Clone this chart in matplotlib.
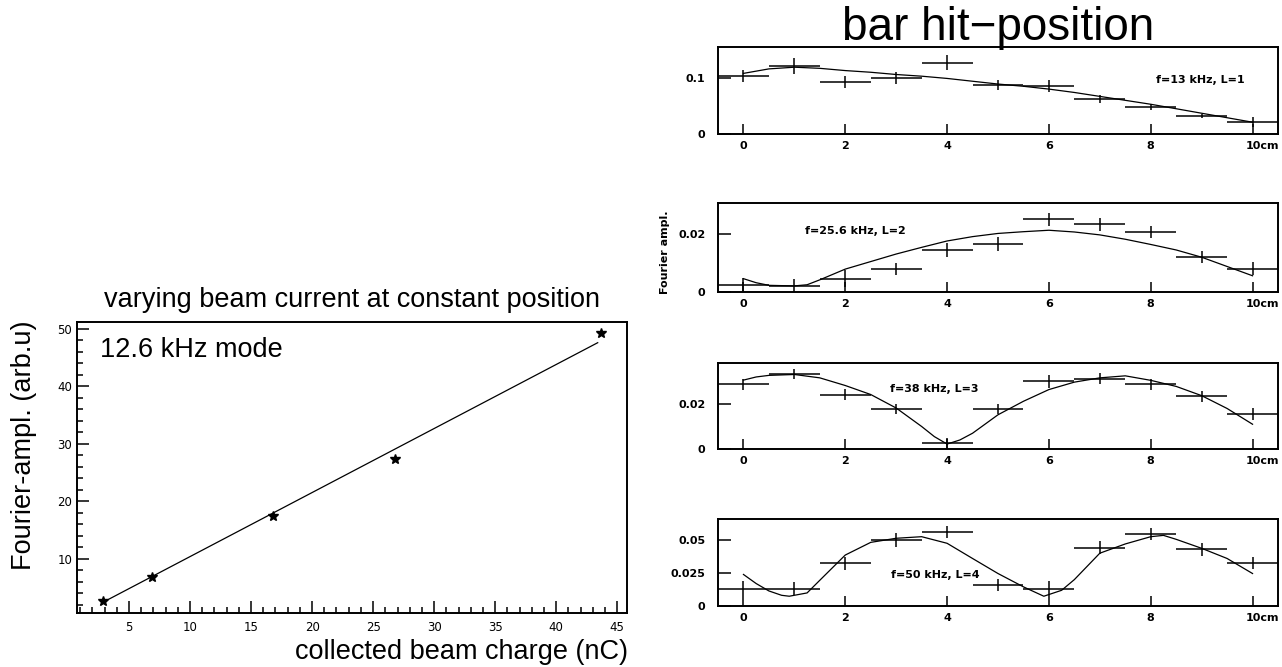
import numpy as np
import matplotlib
matplotlib.use("Agg")
import matplotlib.pyplot as plt
import matplotlib.transforms as mtransforms
from matplotlib.ticker import MultipleLocator

plt.rcParams['font.family'] = ['Liberation Sans', 'DejaVu Sans']

# left plot: amplitude vs collected charge
charge = [2.9, 6.9, 16.8, 26.8, 43.7]
ampl = [2.7, 6.9, 17.5, 27.4, 49.3]
fit_x = [2.9, 43.4]
fit_y = [2.5, 47.6]

# right panels: hit position scan, one entry per mode
pos = [0, 1, 2, 3, 4, 5, 6, 7, 8, 9, 10]
labels = ["f=13 kHz, L=1", "f=25.6 kHz, L=2", "f=38 kHz, L=3", "f=50 kHz, L=4"]
vals = [
    [0.103, 0.121, 0.093, 0.100, 0.127, 0.087, 0.085, 0.062, 0.048, 0.032, 0.021],
    [0.0025, 0.0022, 0.0046, 0.0079, 0.0145, 0.0166, 0.0251, 0.0233, 0.0206, 0.0121, 0.0081],
    [0.0287, 0.0334, 0.0242, 0.0179, 0.0025, 0.0179, 0.0301, 0.0313, 0.0287, 0.0234, 0.0155],
    [0.0132, 0.0132, 0.0322, 0.0500, 0.0558, 0.0162, 0.0132, 0.0442, 0.0546, 0.0429, 0.0327],
]
errs = [
    [0.011, 0.014, 0.011, 0.011, 0.013, 0.009, 0.011, 0.007, 0.006, 0.004, 0.009],
    [0.0022, 0.0022, 0.0030, 0.0021, 0.0023, 0.0023, 0.0023, 0.0023, 0.0021, 0.0022, 0.0023],
    [0.0024, 0.0023, 0.0026, 0.0022, 0.0024, 0.0022, 0.0028, 0.0026, 0.0025, 0.0024, 0.0026],
    [0.0060, 0.0047, 0.0051, 0.0051, 0.0045, 0.0045, 0.0057, 0.0051, 0.0047, 0.0047, 0.0045],
]
curve_x = [
    [0, 0.5, 1, 1.5, 2, 2.5, 3, 3.5, 4, 4.5, 5, 5.5, 6, 6.5, 7, 7.5, 8, 8.5, 9, 9.5, 10],
    [0, 0.25, 0.5, 1, 1.25, 1.5, 2, 2.5, 3, 3.5, 4, 4.5, 5, 5.5, 6, 6.5, 7, 7.5, 8, 8.5, 9, 9.5, 10],
    [0, 0.25, 0.5, 1, 1.5, 2, 2.5, 3, 3.5, 3.75, 4, 4.25, 4.5, 5, 5.5, 6, 6.5, 7, 7.5, 8, 8.5, 9, 9.5, 10],
    [0, 0.25, 0.5, 0.75, 0.9, 1.25, 1.5, 2, 2.5, 3, 3.5, 4, 4.5, 5, 5.5, 5.9, 6.25, 6.5, 7, 7.5, 8, 8.25, 8.5, 9, 9.5, 10],
]
curve_y = [
    [0.108, 0.116, 0.119, 0.117, 0.113, 0.110, 0.106, 0.103, 0.099, 0.094, 0.089, 0.085, 0.080,
     0.074, 0.067, 0.060, 0.053, 0.045, 0.037, 0.029, 0.021],
    [0.0046, 0.0032, 0.0023, 0.0021, 0.0025, 0.0042, 0.0079, 0.0105, 0.0131, 0.0154, 0.0176, 0.0191,
     0.0202, 0.0208, 0.0213, 0.0207, 0.0197, 0.0182, 0.0164, 0.0145, 0.0120, 0.0088, 0.0056],
    [0.0306, 0.0320, 0.0327, 0.0331, 0.0316, 0.0282, 0.0242, 0.0182, 0.0100, 0.0055, 0.0022, 0.0040,
     0.0070, 0.0152, 0.0212, 0.0264, 0.0297, 0.0316, 0.0325, 0.0305, 0.0278, 0.0237, 0.0180, 0.0110],
    [0.0239, 0.0170, 0.0114, 0.0081, 0.0074, 0.0099, 0.0195, 0.0386, 0.0482, 0.0513, 0.0525, 0.0475,
     0.0360, 0.0246, 0.0145, 0.0074, 0.0119, 0.0200, 0.0400, 0.0470, 0.0525, 0.0535, 0.0505, 0.0437,
     0.0360, 0.0246],
]
ylims = [0.155, 0.0307, 0.0382, 0.0659]
yticks = [[0, 0.1], [0, 0.02], [0, 0.02], [0, 0.025, 0.05]]
yticklabels = [["0", "0.1"], ["0", "0.02"], ["0", "0.02"], ["0", "0.025", "0.05"]]
xticks = [0, 2, 4, 6, 8, 10]
xticklabels = ["0", "2", "4", "6", "8", "10cm"]
label_pos = [(0.861, 0.62), (0.245, 0.685), (0.386, 0.698), (0.3875, 0.356)]

W, H = 1282, 667
fig = plt.figure(figsize=(W / 100, H / 100), dpi=100)

def box(x0, y0, x1, y1):
    return [x0 / W, 1 - y1 / H, (x1 - x0) / W, (y1 - y0) / H]

small = dict(fontfamily='DejaVu Sans', fontweight='bold', fontsize=8)

# ---- left plot ----
ax = fig.add_axes(box(77, 322, 627, 613))
ax.plot(fit_x, fit_y, color='black', lw=0.9)
ax.plot(charge, ampl, ls='none', marker='*', ms=7, color='black')
ax.set_xlim(0.74, 45.8)
ax.set_ylim(0.6, 51.2)
ax.xaxis.set_major_locator(MultipleLocator(5))
ax.xaxis.set_minor_locator(MultipleLocator(1))
ax.yaxis.set_major_locator(MultipleLocator(10))
ax.yaxis.set_minor_locator(MultipleLocator(2))
ax.set_xticks([5, 10, 15, 20, 25, 30, 35, 40, 45], ["5", "10", "15", "20", "25", "30", "35", "40", "45"],
              fontfamily='DejaVu Sans', fontsize=8.5)
ax.set_yticks([10, 20, 30, 40, 50], ["10", "20", "30", "40", "50"], fontfamily='DejaVu Sans', fontsize=8.5)
ax.tick_params(which='both', direction='in', width=1.1)
ax.tick_params(which='major', length=8.5)
ax.tick_params(which='minor', length=4)
ax.tick_params(axis='x', pad=6)
ax.tick_params(axis='y', pad=3.5)
for s in ax.spines.values():
    s.set_linewidth(1.4)
ax.text(0.042, 0.88, "12.6 kHz mode", transform=ax.transAxes, fontsize=19.5, va='baseline')
fig.text(352 / W, 1 - 307 / H, "varying beam current at constant position", fontsize=19.5,
         ha='center', va='baseline')
fig.text(24 / W, 1 - 445 / H, "Fourier-ampl. (arb.u)", fontsize=19.5, rotation=90,
         ha='center', va='center')
fig.text(628 / W, 1 - 659 / H, "collected beam charge (nC)", fontsize=19.5, ha='right', va='baseline')

# ---- right panels ----
frames = [(47, 134), (203, 292), (363, 449), (519, 606)]
for i in range(4):
    a = fig.add_axes(box(718, frames[i][0], 1278, frames[i][1]))
    a.errorbar(pos, vals[i], xerr=0.5, yerr=errs[i], fmt='none', ecolor='black', elinewidth=1.1, capsize=0)
    a.plot(curve_x[i], curve_y[i], color='black', lw=0.9)
    a.set_xlim(-0.5, 10.5)
    a.set_ylim(0, ylims[i])
    a.set_xticks(xticks, xticklabels, **small)
    a.set_yticks(yticks[i], yticklabels[i], **small)
    a.tick_params(direction='in', width=1.1)
    a.tick_params(axis='x', length=7, pad=5)
    a.tick_params(axis='y', length=9, pad=9)
    for s in a.spines.values():
        s.set_linewidth(1.4)
    last = a.get_xticklabels()[-1]
    last.set_ha('left')
    last.set_transform(last.get_transform() +
                       mtransforms.ScaledTranslation(-7 / 100, 0, fig.dpi_scale_trans))
    a.text(label_pos[i][0], label_pos[i][1], labels[i], transform=a.transAxes,
           ha='center', va='center', **small)

fig.text(998 / W, 1 - 40 / H, "bar hit\u2212position", fontsize=33, ha='center', va='baseline')
fig.text(665 / W, 1 - 252 / H, "Fourier ampl.", rotation=90, ha='center', va='center', **small)

fig.savefig("out.png", dpi=100)
